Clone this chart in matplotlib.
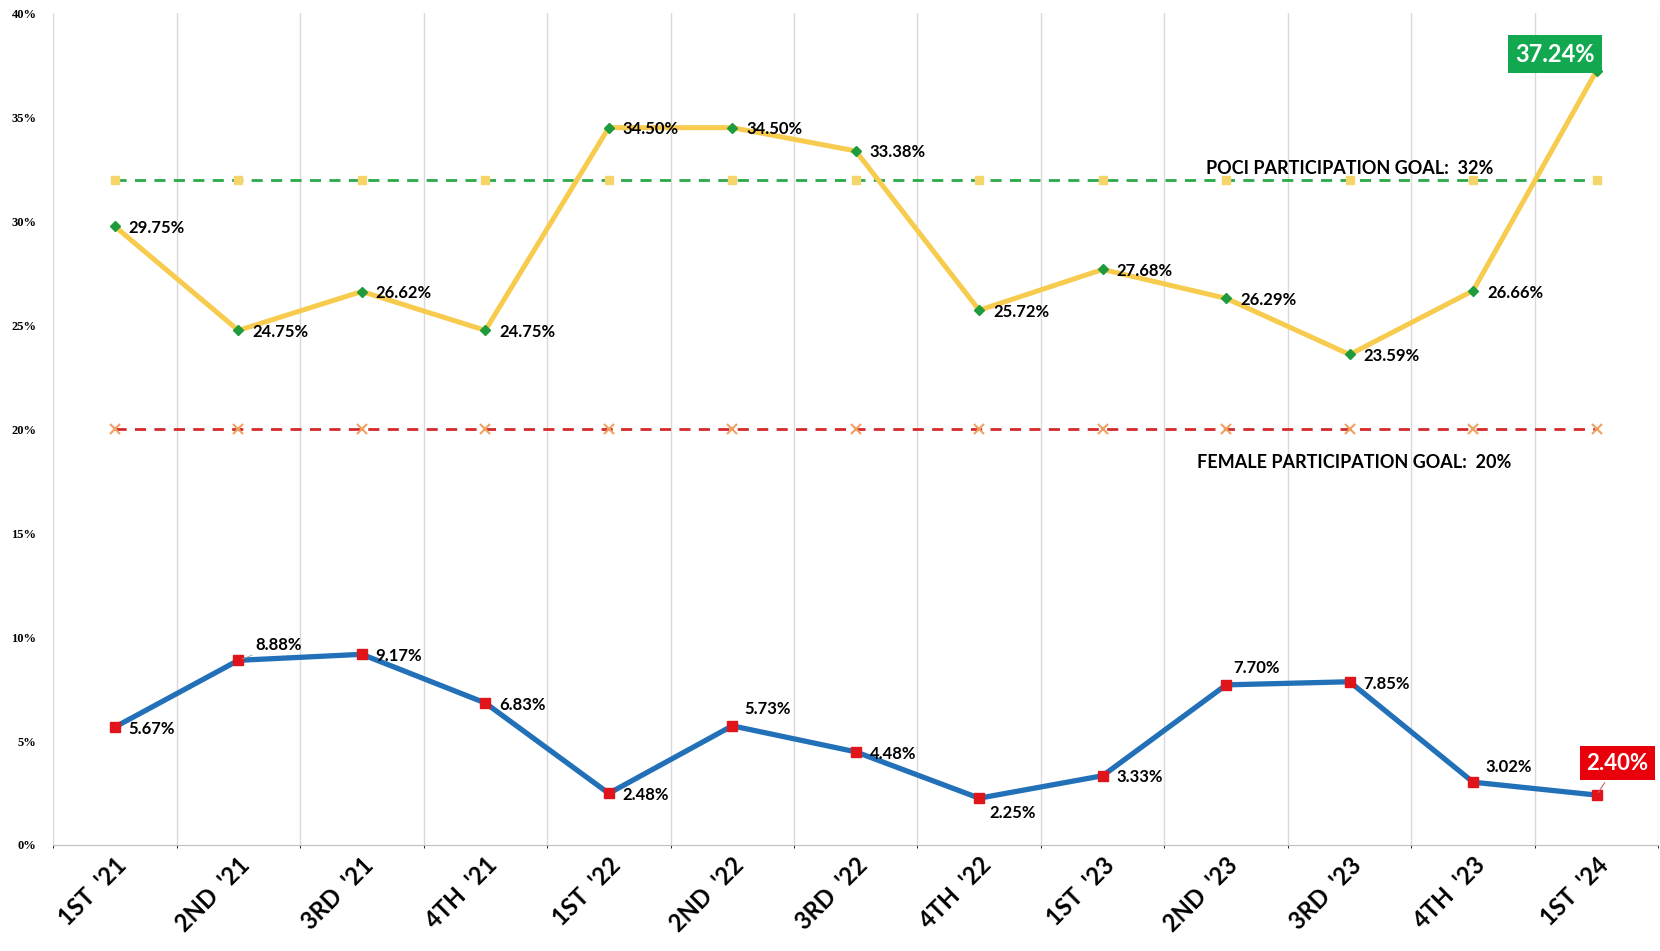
import matplotlib
matplotlib.use("Agg")
import matplotlib.pyplot as plt
from matplotlib.ticker import MultipleLocator, FuncFormatter

# quarters
quarters = ["1ST  '21", "2ND  '21", "3RD  '21", "4TH  '21",
            "1ST  '22", "2ND  '22", "3RD  '22", "4TH  '22",
            "1ST  '23", "2ND  '23", "3RD  '23", "4TH  '23", "1ST  '24"]

# participation values (%)
poci = [29.75, 24.75, 26.62, 24.75, 34.50, 34.50, 33.38, 25.72, 27.68, 26.29, 23.59, 26.66, 37.24]
female = [5.67, 8.88, 9.17, 6.83, 2.48, 5.73, 4.48, 2.25, 3.33, 7.70, 7.85, 3.02, 2.40]

poci_goal = 32
female_goal = 20

# label placement (offset points) for each data label
poci_off = [(10, -1), (10, -1.5), (10, -1), (10, -1.5), (10, -1), (10, -1), (10, -1),
            (10, -1), (10, -1), (10, -1), (10, -1), (10, -1.5), (-30, 12)]
female_off = [(10, -1.5), (12, 10.7), (10, -1.5), (10, -1.5), (10, -1.5), (8.4, 12.2), (10, -1.5),
              (7, -10.7), (10, -1), (5.3, 12.2), (10, -1.5), (9, 10.7), (15, 23)]

label_font = ["Lato", "DejaVu Sans"]

fig = plt.figure(figsize=(16.6, 9.51), dpi=100)
ax = fig.add_axes([0.032, 0.1115, 0.967, 0.8745])

x = list(range(len(quarters)))

# goal lines
ax.plot(x, [poci_goal] * len(x), color="#2BA84A", lw=2, ls=(0, (4, 3)),
        marker="s", ms=6, mfc="#F5D46A", mec="#F5D46A", zorder=2)
ax.plot(x, [female_goal] * len(x), color="#D42A2A", lw=2, ls=(0, (4, 3)),
        marker="x", ms=7, mew=1.5, mec="#F0A060", zorder=2)

# series
ax.plot(x, poci, color="#F7CB4D", lw=3.6, marker="D", ms=5.5,
        mfc="#1E9B3C", mec="#1E9B3C", zorder=3)
ax.plot(x, female, color="#2271B8", lw=3.8, marker="s", ms=7,
        mfc="#E0151B", mec="#E0151B", zorder=3)

# data labels
for i, (v, off) in enumerate(zip(poci, poci_off)):
    if i == len(poci) - 1:
        ax.annotate(f"{v:.2f}%", (i, v), xytext=off, textcoords="offset points",
                    ha="center", va="center", fontsize=17, fontweight="bold",
                    color="white", family=label_font, zorder=5,
                    bbox=dict(boxstyle="square,pad=0.3", fc="#12A84F", ec="none"))
    else:
        ax.annotate(f"{v:.2f}%", (i, v), xytext=off, textcoords="offset points",
                    ha="left", va="center", fontsize=12, fontweight="bold",
                    family=label_font, zorder=5)

for i, (v, off) in enumerate(zip(female, female_off)):
    if i == len(female) - 1:
        ax.annotate(f"{v:.2f}%", (i, v), xytext=off, textcoords="offset points",
                    ha="center", va="center", fontsize=16, fontweight="bold",
                    color="white", family=label_font, zorder=5,
                    bbox=dict(boxstyle="square,pad=0.3", fc="#E8000B", ec="none"),
                    arrowprops=dict(arrowstyle="-", color="#D06060", lw=0.8))
    elif i == 1:
        ax.annotate(f"{v:.2f}%", (i, v), xytext=off, textcoords="offset points",
                    ha="left", va="center", fontsize=12, fontweight="bold",
                    family=label_font, zorder=5,
                    arrowprops=dict(arrowstyle="-", color="#A0A0A0", lw=0.6,
                                    shrinkA=0, shrinkB=3))
    else:
        ax.annotate(f"{v:.2f}%", (i, v), xytext=off, textcoords="offset points",
                    ha="left", va="center", fontsize=12, fontweight="bold",
                    family=label_font, zorder=5)

# goal labels
ax.text(8.84, poci_goal + 0.55, f"POCI PARTICIPATION GOAL:  {poci_goal}%",
        ha="left", va="center", fontsize=13, fontweight="bold", family=label_font)
ax.text(8.76, female_goal - 1.6, f"FEMALE PARTICIPATION GOAL:  {female_goal}%",
        ha="left", va="center", fontsize=13, fontweight="bold", family=label_font)

# axes styling
ax.set_xlim(-0.5, len(quarters) - 0.5)
ax.set_ylim(0, 40)
ax.yaxis.set_major_locator(MultipleLocator(5))
ax.yaxis.set_major_formatter(FuncFormatter(lambda v, p: f"{v:.0f}%"))
ax.set_xticks(x)
ax.set_xticklabels(quarters, rotation=45, ha="right", rotation_mode="anchor",
                   fontsize=17, fontweight="bold", family=label_font)
for lbl in ax.get_yticklabels():
    lbl.set_fontfamily("Liberation Serif")
    lbl.set_fontweight("bold")
    lbl.set_fontsize(9)
ax.tick_params(axis="both", length=0)
ax.tick_params(axis="y", pad=12)
ax.tick_params(axis="x", pad=6)

ax.set_xticks([i + 0.5 for i in range(-1, len(quarters))], minor=True)
ax.grid(True, which="minor", axis="x", color="#D9D9D9", lw=1)
ax.grid(False, which="major")
for s in ["top", "right", "left"]:
    ax.spines[s].set_visible(False)
ax.spines["bottom"].set_color("#BFBFBF")

fig.savefig("out.png", dpi=100)
